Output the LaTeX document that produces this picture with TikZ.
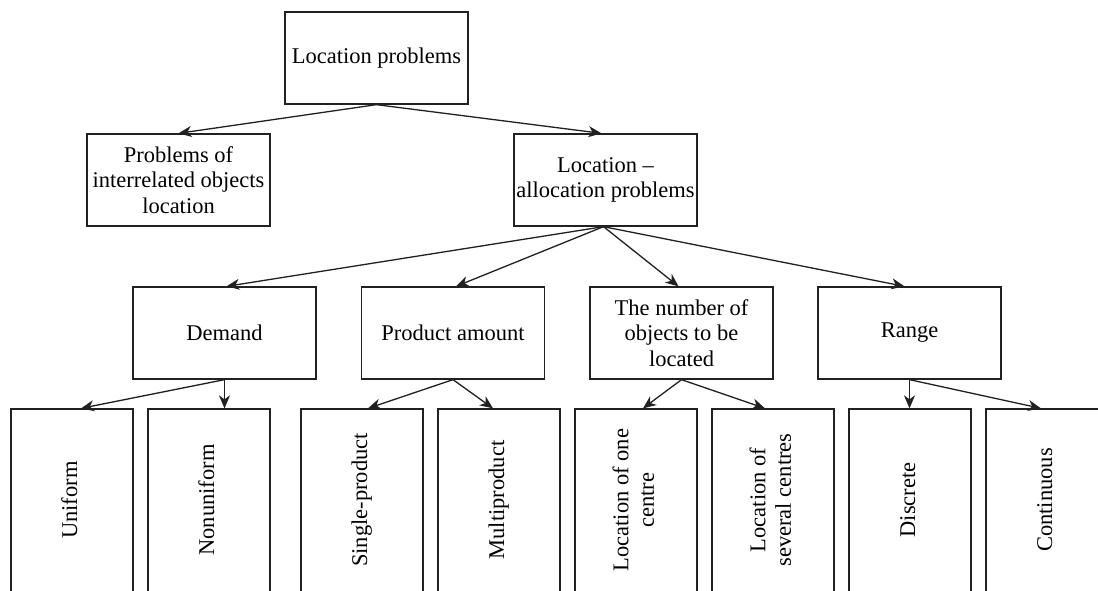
\documentclass[tikz,border=0pt]{standalone}
\usepackage{fontspec}
\setmainfont{Liberation Serif}
\usepackage{graphicx}
\usetikzlibrary{arrows.meta}
\newcommand{\vtext}[1]{\rotatebox{90}{\begin{tabular}{@{}c@{}}#1\end{tabular}}}
\begin{document}
\begin{tikzpicture}[x=1pt,y=-1pt,
  box/.style={draw=black!87, line width=1.3pt, inner sep=2pt, align=center,
    font=\fontsize{22.5}{25.5}\selectfont},
  big/.style={box, minimum width=183pt, minimum height=92pt},
  leaf/.style={box, minimum width=122pt, minimum height=200pt, text depth=18pt},
  arr/.style={draw=black!87, line width=1.3pt, -{Stealth[length=13pt,width=11pt,inset=4pt]}}]
\useasboundingbox (0,0) rectangle (1098,590);
\clip (0,0) rectangle (1098,590);
\fill[white] (0,0) rectangle (1098,590);

\node[big] (top) at (376.5,58) {Location problems};
\node[big] (prob) at (178.5,180) {Problems of\\interrelated objects\\location};
\node[big] (la) at (605.5,180) {Location --\\allocation problems};

\node[big] (demand) at (224.5,333) {Demand};
\node[big] (product) at (453,333) {Product amount};
\node[big] (number) at (681.5,333) {The number of\\objects to be\\located};
\node[big] (range) at (909.5,333) {Range};

\node[leaf] (uni) at (72,509) {\vtext{Uniform}};
\node[leaf] (nonuni) at (209,509) {\vtext{Nonuniform}};
\node[leaf] (single) at (362,509) {\vtext{Single-product}};
\node[leaf] (multi) at (499,509) {\vtext{Multiproduct}};
\node[leaf] (one) at (636,509) {\vtext{Location of one\\centre}};
\node[leaf] (several) at (773,509) {\vtext{Location of\\several centres}};
\node[leaf] (disc) at (910,509) {\vtext{Discrete}};
\node[leaf] (cont) at (1047,509) {\vtext{Continuous}};

\draw[arr] (top.south) -- (prob.north);
\draw[arr] (top.south) -- ([xshift=-4pt]la.north);

\draw[arr] ([xshift=-2pt]la.south) -- ([xshift=2pt]demand.north);
\draw[arr] ([xshift=-2pt]la.south) -- ([xshift=3pt]product.north);
\draw[arr] ([xshift=-2pt]la.south) -- ([xshift=-3pt]number.north);
\draw[arr] ([xshift=-2pt]la.south) -- ([xshift=-5pt]range.north);

\draw[arr] (demand.south) -- ([xshift=9pt]uni.north);
\draw[arr] (demand.south) -- (demand.south |- nonuni.north);
\draw[arr] (product.south) -- ([xshift=6pt]single.north);
\draw[arr] (product.south) -- ([xshift=-6pt]multi.north);
\draw[arr] (number.south) -- ([xshift=7pt]one.north);
\draw[arr] (number.south) -- ([xshift=-8pt]several.north);
\draw[arr] (range.south) -- (range.south |- disc.north);
\draw[arr] (range.south) -- ([xshift=-6pt]cont.north);
\end{tikzpicture}
\end{document}
